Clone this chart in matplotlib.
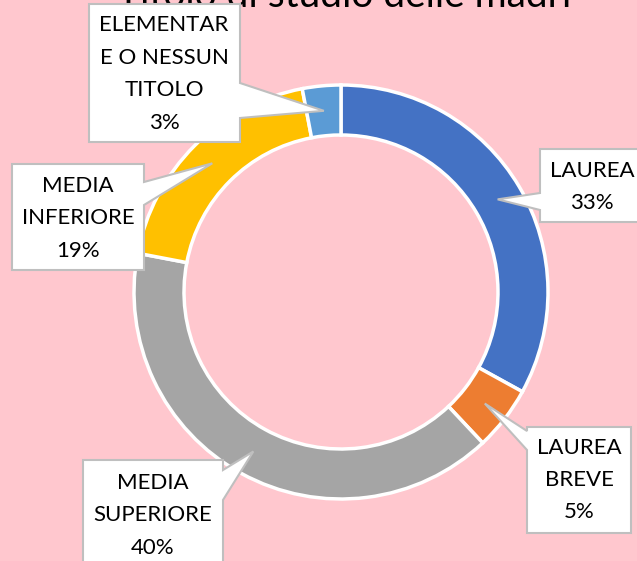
import matplotlib
matplotlib.use("Agg")
import matplotlib.pyplot as plt
from matplotlib.patches import Polygon
import numpy as np

plt.rcParams['font.family'] = ['Lato', 'DejaVu Sans']

# ---- data ----
categories = ["LAUREA", "LAUREA BREVE", "MEDIA SUPERIORE", "MEDIA INFERIORE",
              "ELEMENTARE O NESSUN TITOLO"]
label_lines = [["LAUREA"], ["LAUREA", "BREVE"], ["MEDIA", "SUPERIORE"],
               ["MEDIA", "INFERIORE"], ["ELEMENTAR", "E O NESSUN", "TITOLO"]]
values = [33, 5, 40, 19, 3]
colors = ["#4472C4", "#ED7D31", "#A5A5A5", "#FFC000", "#5B9BD5"]
title = "Titolo di studio delle madri"

W, H = 637, 561
BG = "#FFC7CE"
fig = plt.figure(figsize=(W / 100, H / 100), dpi=100, facecolor=BG)
ax = fig.add_axes([0, 0, 1, 1])
ax.set_facecolor(BG)

cx, cy = 341, 292
R = 207
width = 50

ax.pie(values, colors=colors, startangle=-90, counterclock=True,
       radius=R, center=(cx, cy),
       wedgeprops=dict(width=width, edgecolor="white", linewidth=2.5))
ax.set_xlim(0, W)
ax.set_ylim(H, 0)
ax.set_aspect("equal")
ax.axis("off")

# ---- callouts (layout) ----
boxes = [
    dict(box=(540, 149, 650, 222), side="left", base=(193, 210), xc=592),
    dict(box=(527, 427, 631, 533), side="left", base=(431, 450), xc=579),
    dict(box=(83, 460, 223, 590), side="right", base=(470, 500), xc=153),
    dict(box=(12, 164, 144, 270), side="right", base=(182, 205), xc=78),
    dict(box=(89, 4, 240, 142), side="right", base=(83, 118), xc=164),
]
text_centers_y = [187, 480, 515, 218, 74]

total = float(sum(values))
cum = 0.0
rm = R - width / 2
for i, v in enumerate(values):
    mid = 90 - 360 * (cum + v / 2) / total
    cum += v
    tx = cx + rm * np.cos(np.radians(mid))
    ty = cy - rm * np.sin(np.radians(mid))
    b = boxes[i]
    l, t, r, bt = b["box"]
    b0, b1 = b["base"]
    if b["side"] == "left":
        pts = [(l, t), (r, t), (r, bt), (l, bt), (l, b1), (tx, ty), (l, b0)]
    else:
        pts = [(l, t), (r, t), (r, b0), (tx, ty), (r, b1), (r, bt), (l, bt)]
    ax.add_patch(Polygon(pts, closed=True, facecolor="white",
                         edgecolor="#BFBFBF", linewidth=1.5, zorder=5))
    lines = label_lines[i] + [f"{v}%"]
    n = len(lines)
    for j, s in enumerate(lines):
        yy = text_centers_y[i] + (j - (n - 1) / 2) * 32.5
        ax.text(b["xc"], yy, s, ha="center", va="center", fontsize=16,
                color="#000000", zorder=6)

ax.text(344, 7, title, ha="center", va="baseline", fontsize=28,
        color="#000000", zorder=1)

fig.savefig("out.png", dpi=100, facecolor=BG)
